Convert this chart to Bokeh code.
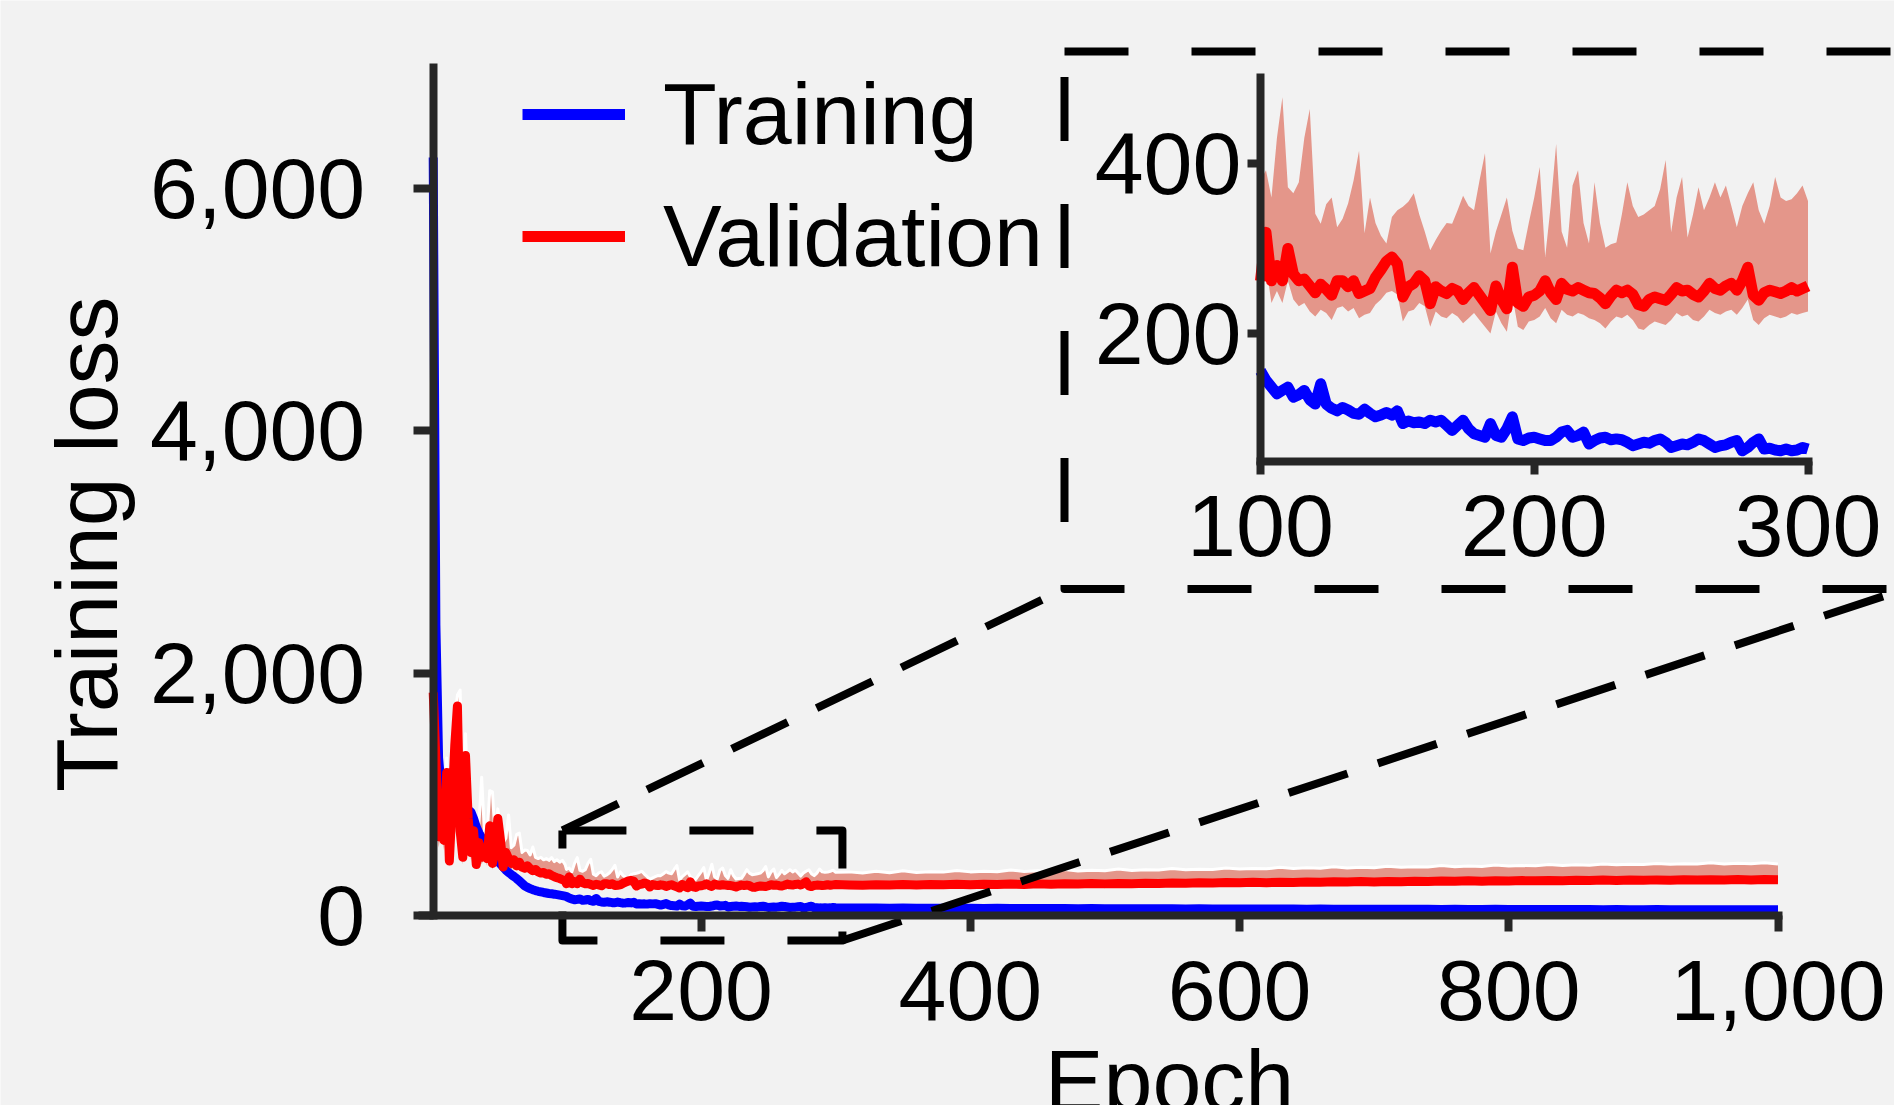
import math
from bokeh.plotting import figure
from bokeh.models import (Range1d, LinearAxis, FixedTicker, NumeralTickFormatter,
                          Legend, LegendItem, Label, ColumnDataSource)
from bokeh.embed import file_html
from bokeh.resources import INLINE

# ---------------- data ----------------
EPOCH_E1 = list(range(1, 100, 2))      # 50 epochs
EPOCH_E2 = list(range(100, 301, 2))    # 101 epochs (zoomed region)
EPOCH_E3 = list(range(310, 1001, 10))  # 70 epochs

TRAIN_E1 = [6256, 2400, 1300, 1050, 980, 950, 930, 920, 910, 900,
            895, 890, 880, 870, 855, 800, 730, 680, 640, 600,
            570, 540, 510, 480, 450, 425, 400, 375, 355, 338,
            322, 305, 285, 265, 245, 232, 222, 213, 206, 200,
            195, 190, 186, 182, 179, 176, 172, 168, 164, 160]
TRAIN_E2 = [156, 145, 137, 129, 133, 137, 125, 128, 133, 122,
            117, 141, 117, 112, 109, 113, 110, 106, 105, 111,
            106, 102, 104, 107, 104, 109, 94, 97, 95, 96,
            94, 98, 96, 98, 92, 86, 92, 98, 88, 82,
            80, 78, 94, 80, 78, 88, 102, 76, 74, 77,
            78, 76, 74, 74, 78, 84, 86, 78, 80, 84,
            70, 74, 77, 78, 75, 76, 75, 72, 68, 70,
            72, 71, 74, 76, 72, 66, 68, 70, 69, 72,
            76, 74, 70, 66, 68, 69, 72, 74, 62, 66,
            72, 76, 64, 65, 63, 62, 64, 62, 63, 66,
            64]
TRAIN_E3 = [62, 61, 62, 60, 61, 60, 59, 60, 59, 59,
            58, 59, 58, 58, 57, 58, 57, 56, 57, 56,
            56, 55, 56, 55, 55, 54, 55, 54, 54, 54,
            53, 54, 53, 53, 52, 53, 52, 52, 51, 52,
            51, 51, 52, 51, 50, 51, 50, 50, 51, 50,
            49, 50, 49, 49, 50, 49, 48, 49, 48, 48,
            49, 48, 48, 47, 48, 47, 48, 47, 47, 47]

VAL_E1 = [1840, 1300, 650, 950, 620, 1180, 450, 900, 1400, 1730,
          700, 480, 1320, 800, 520, 700, 420, 600, 480, 560,
          470, 740, 430, 520, 800, 620, 400, 520, 470, 430,
          460, 410, 440, 400, 390, 410, 385, 370, 380, 360,
          350, 355, 340, 345, 330, 320, 312, 305, 295, 285]
VAL_E2 = [262, 319, 262, 280, 262, 300, 270, 262, 264, 256,
          248, 258, 252, 245, 262, 262, 255, 262, 247, 250,
          253, 266, 275, 285, 290, 282, 243, 255, 259, 268,
          262, 235, 255, 250, 247, 253, 250, 240, 248, 254,
          245, 236, 227, 256, 240, 229, 278, 236, 232, 243,
          245, 250, 262, 248, 240, 259, 252, 250, 254, 251,
          248, 247, 242, 235, 244, 251, 248, 251, 246, 234,
          232, 240, 243, 241, 239, 246, 254, 250, 251, 246,
          243, 250, 259, 253, 251, 256, 259, 251, 262, 278,
          245, 239, 248, 251, 249, 247, 250, 254, 250, 253,
          256]
VAL_E3 = [252, 250, 254, 251, 255, 252, 256, 253, 257, 254,
          258, 255, 259, 256, 261, 258, 262, 259, 264, 261,
          265, 263, 266, 264, 268, 266, 271, 268, 272, 270,
          274, 271, 275, 273, 277, 274, 278, 276, 280, 277,
          281, 279, 283, 280, 284, 282, 286, 283, 287, 285,
          288, 286, 289, 287, 290, 288, 292, 289, 293, 290,
          294, 291, 295, 292, 296, 293, 297, 294, 297, 296]

VAL_HI_E1 = [1860, 1500, 900, 1100, 800, 1300, 700, 1100, 1600, 1820,
             1860, 900, 1500, 950, 800, 850, 700, 760, 1140, 700,
             650, 1030, 1020, 650, 880, 700, 600, 640, 830, 560,
             580, 670, 680, 520, 540, 536, 500, 565, 480, 470,
             480, 460, 470, 455, 478, 445, 460, 440, 455, 420]
VAL_HI_E2 = [380, 392, 360, 430, 478, 372, 365, 378, 430, 464,
             341, 329, 352, 360, 325, 335, 353, 380, 415, 318,
             360, 330, 315, 306, 337, 345, 349, 355, 365, 340,
             320, 298, 310, 321, 330, 329, 345, 362, 350, 345,
             380, 412, 294, 320, 340, 360, 321, 300, 298, 330,
             360, 396, 290, 350, 423, 320, 301, 374, 392, 330,
             306, 378, 330, 301, 305, 307, 340, 378, 350, 337,
             340, 345, 350, 370, 404, 319, 360, 384, 313, 340,
             372, 345, 360, 378, 360, 374, 350, 325, 350, 365,
             378, 345, 329, 350, 384, 360, 356, 358, 365, 374,
             356]
VAL_HI_E3 = [360, 350, 365, 352, 370, 355, 362, 358, 372, 360,
             366, 362, 375, 364, 370, 366, 380, 368, 374, 370,
             384, 372, 378, 376, 388, 378, 382, 380, 392, 384,
             388, 385, 398, 388, 394, 390, 402, 393, 398, 395,
             406, 398, 402, 400, 412, 402, 408, 405, 416, 408,
             412, 410, 420, 412, 418, 415, 425, 418, 422, 420,
             430, 422, 428, 425, 435, 426, 432, 428, 436, 425]

VAL_LO_E1 = [1600, 900, 560, 700, 540, 900, 400, 700, 1100, 1400,
             600, 420, 1000, 650, 460, 580, 380, 500, 420, 480,
             410, 600, 380, 450, 650, 520, 360, 450, 410, 380,
             400, 370, 390, 360, 350, 365, 345, 335, 340, 325,
             318, 320, 308, 310, 298, 290, 282, 276, 268, 258]
VAL_LO_E2 = [232, 280, 236, 250, 236, 262, 240, 232, 236, 226,
             220, 228, 224, 216, 230, 232, 226, 230, 218, 222,
             224, 234, 240, 248, 250, 246, 214, 226, 228, 236,
             232, 208, 226, 220, 218, 224, 220, 212, 218, 224,
             216, 208, 200, 226, 212, 202, 244, 208, 204, 214,
             216, 220, 230, 218, 212, 228, 222, 220, 224, 222,
             218, 216, 212, 206, 214, 220, 218, 222, 216, 206,
             204, 210, 214, 212, 210, 216, 224, 220, 222, 216,
             214, 220, 228, 224, 222, 226, 228, 222, 230, 240,
             216, 210, 218, 222, 220, 218, 220, 224, 222, 224,
             226]
VAL_LO_E3 = [222, 220, 224, 221, 225, 222, 226, 223, 227, 224,
             228, 225, 229, 226, 231, 228, 232, 229, 234, 231,
             235, 233, 236, 234, 238, 236, 241, 238, 242, 240,
             244, 241, 245, 243, 247, 244, 248, 246, 250, 247,
             251, 249, 253, 250, 254, 252, 256, 253, 257, 255,
             258, 256, 259, 257, 260, 258, 262, 259, 263, 260,
             264, 261, 265, 262, 266, 263, 267, 264, 267, 266]

X_TICKS = [200, 400, 600, 800, 1000]
Y_TICKS = [0, 2000, 4000, 6000]
INSET_X_TICKS = [100, 200, 300]
INSET_Y_TICKS = [200, 400]
X_LABEL = "Epoch"
Y_LABEL = "Training loss"
SERIES_NAMES = ["Training", "Validation"]

EPOCH = EPOCH_E1 + EPOCH_E2 + EPOCH_E3
TRAIN = TRAIN_E1 + TRAIN_E2 + TRAIN_E3
VAL = VAL_E1 + VAL_E2 + VAL_E3
VAL_HI = VAL_HI_E1 + VAL_HI_E2 + VAL_HI_E3
VAL_LO = VAL_LO_E1 + VAL_LO_E2 + VAL_LO_E3

# ---------------- layout / style ----------------
W, H = 1894, 1105
OFF = 0
BG = "#f2f2f2"
AX = "#262626"
BLUE = "#0000ff"
RED = "#ff0000"
SALMON = "#e4968a"
FONT = "Liberation Sans"

# main axes mapping (reference pixel positions of x=1, x=1000, y=0, y=6000)
kx = (1777.5 - 432.7) / 999.0
x_start = 1 - (432.7 - OFF) / kx
x_end = x_start + W / kx
ky = (915.0 - 188.0) / 6000.0
y_end = (915.0 - OFF) / ky
y_start = y_end - H / ky

# inset mapping (x=100 -> 1260, x=300 -> 1807.5, y=200 -> 333, y=400 -> 163)
kix = (1807.5 - 1260.0) / 200.0
ix_start = 100 - (1260.0 - OFF) / kix
ix_end = ix_start + W / kix
kiy = (333.0 - 163.0) / 200.0
iy_end = 200 + (333.0 - OFF) / kiy
iy_start = iy_end - H / kiy


def PX(px):
    return x_start + (px - OFF) / kx


def PY(py):
    return y_end - (py - OFF) / ky


p = figure(width=W, height=H, output_backend="svg", toolbar_location=None,
           x_range=Range1d(x_start, x_end), y_range=Range1d(y_start, y_end),
           x_axis_type=None, y_axis_type=None, min_border=0,
           background_fill_color=BG, border_fill_color=BG, outline_line_color=None)
p.extra_x_ranges = {"ix": Range1d(ix_start, ix_end)}
p.extra_y_ranges = {"iy": Range1d(iy_start, iy_end)}
p.grid.visible = False

src = ColumnDataSource(dict(epoch=EPOCH, train=TRAIN, val=VAL, hi=VAL_HI, lo=VAL_LO))
ins = ColumnDataSource(dict(epoch=EPOCH_E2, train=TRAIN_E2, val=VAL_E2, hi=VAL_HI_E2, lo=VAL_LO_E2))

# main plot
p.varea(x="epoch", y1="lo", y2="hi", source=src, fill_color=SALMON)
p.line("epoch", "hi", source=src, line_color="white", line_width=3, line_join="round")
p.line("epoch", "train", source=src, line_color=BLUE, line_width=9, line_join="round")
p.line("epoch", "val", source=src, line_color=RED, line_width=9, line_join="round")

# inset
p.varea(x="epoch", y1="lo", y2="hi", source=ins, fill_color=SALMON,
        x_range_name="ix", y_range_name="iy")
r_tr = p.line("epoch", "train", source=ins, line_color=BLUE, line_width=11, line_join="round",
              x_range_name="ix", y_range_name="iy")
r_va = p.line("epoch", "val", source=ins, line_color=RED, line_width=11, line_join="round",
              x_range_name="ix", y_range_name="iy")


def style_axis(ax, tick_out, size, standoff):
    ax.axis_line_color = AX
    ax.axis_line_width = 8
    ax.axis_line_cap = "butt"
    ax.major_tick_line_color = AX
    ax.major_tick_line_width = 8
    ax.major_tick_in = 0
    ax.major_tick_out = tick_out
    ax.minor_tick_line_color = None
    ax.major_label_text_font = FONT
    ax.major_label_text_font_size = size
    ax.major_label_text_color = "black"
    ax.major_label_standoff = standoff


ax_x = LinearAxis(fixed_location=0, bounds=(-10, 1003), ticker=FixedTicker(ticks=X_TICKS),
                  formatter=NumeralTickFormatter(format="0,0"))
style_axis(ax_x, 16, "86px", 29)
p.add_layout(ax_x, "below")

ax_y = LinearAxis(fixed_location=1, bounds=(-30, 7030), ticker=FixedTicker(ticks=Y_TICKS),
                  formatter=NumeralTickFormatter(format="0,0"))
style_axis(ax_y, 20, "86px", 48)
p.add_layout(ax_y, "left")

ax_ix = LinearAxis(x_range_name="ix", y_range_name="iy", fixed_location=50, bounds=(98.5, 301.5),
                   ticker=FixedTicker(ticks=INSET_X_TICKS))
style_axis(ax_ix, 13, "88px", 22)
p.add_layout(ax_ix, "below")

ax_iy = LinearAxis(x_range_name="ix", y_range_name="iy", fixed_location=100, bounds=(45.3, 505.5),
                   ticker=FixedTicker(ticks=INSET_Y_TICKS))
style_axis(ax_iy, 13, "88px", 6)
p.add_layout(ax_iy, "left")

# axis titles
p.add_layout(Label(x=PX(86), y=PY(543.7), text=Y_LABEL, angle=math.pi / 2,
                   text_align="center", text_baseline="alphabetic",
                   text_font=FONT, text_font_size="88px", text_color="black"))
p.add_layout(Label(x=PX(1169), y=PY(1080), text=X_LABEL,
                   text_align="center", text_baseline="alphabetic",
                   text_font=FONT, text_font_size="88px", text_color="black"))

# zoom indicators (dashed)
BOX = dict(x0=97, x1=305, y0=-206, y1=702)
p.line([BOX["x0"], BOX["x1"], BOX["x1"], BOX["x0"], BOX["x0"]],
       [BOX["y1"], BOX["y1"], BOX["y0"], BOX["y0"], BOX["y1"]],
       line_color="black", line_width=8, line_dash="64 63", line_join="round")
BIG = dict(l=1064, r=1904.75, t=51, b=588.5)
p.line([PX(BIG["l"]), PX(BIG["r"]), PX(BIG["r"]), PX(BIG["l"]), PX(BIG["l"])],
       [PY(BIG["t"]), PY(BIG["t"]), PY(BIG["b"]), PY(BIG["b"]), PY(BIG["t"])],
       line_color="black", line_width=8, line_dash="64 63", line_join="round")
p.line([BOX["x0"], PX(BIG["l"])], [BOX["y1"], PY(BIG["b"])],
       line_color="black", line_width=8, line_dash="62 32")
p.line([BOX["x1"], PX(BIG["r"])], [BOX["y0"], PY(BIG["b"])],
       line_color="black", line_width=8, line_dash="62 32")

legend = Legend(items=[LegendItem(label=SERIES_NAMES[0], renderers=[r_tr]),
                       LegendItem(label=SERIES_NAMES[1], renderers=[r_va])],
                location=(522, 1105 - 280 - 8), orientation="vertical", padding=0, margin=0,
                spacing=18, glyph_width=103, glyph_height=104, label_height=104,
                label_standoff=38, label_text_font=FONT, label_text_font_size="88px",
                label_text_color="black", background_fill_alpha=0, border_line_alpha=0)
p.add_layout(legend)

open("out.html", "w").write(file_html(p, INLINE))
